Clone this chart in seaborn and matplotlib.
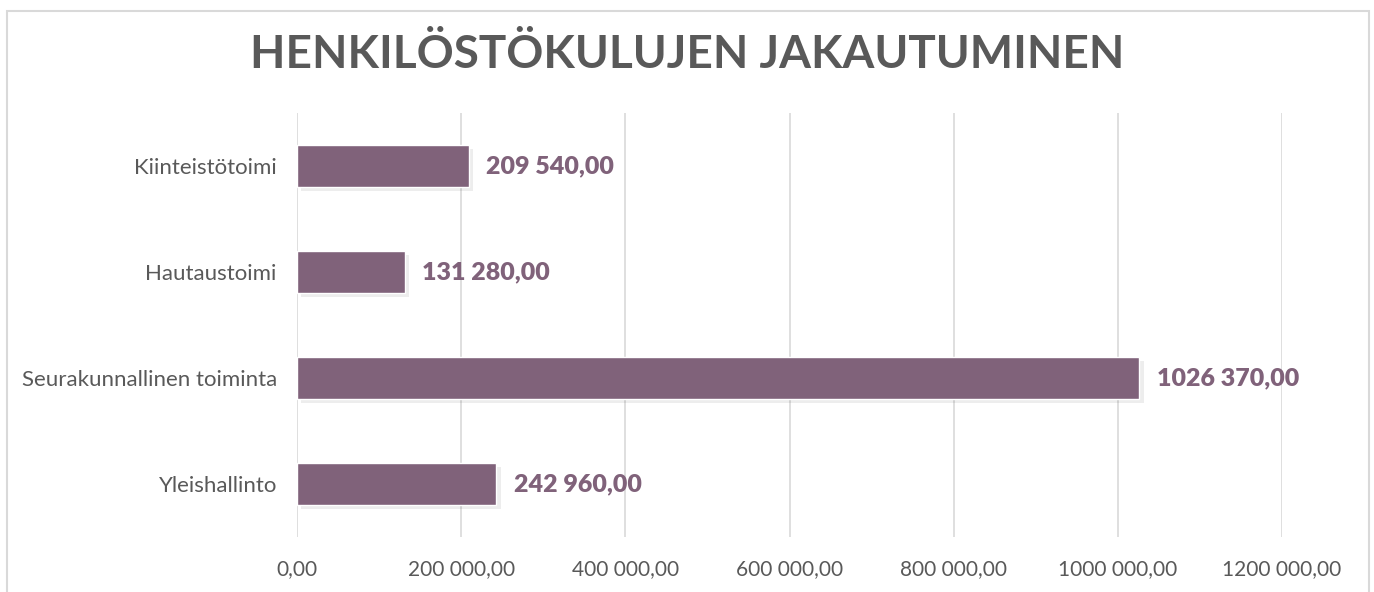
import matplotlib
matplotlib.use("Agg")
import matplotlib.pyplot as plt
import matplotlib.patheffects as pe
from matplotlib.patches import Rectangle
import pandas as pd
import seaborn as sns

# ---------- Data ----------
categories = ["Kiinteistötoimi", "Hautaustoimi", "Seurakunnallinen toiminta", "Yleishallinto"]
values     = [209540.00, 131280.00, 1026370.00, 242960.00]
x_ticks    = [0, 200000, 400000, 600000, 800000, 1000000, 1200000]

TITLE     = "HENKILÖSTÖKULUJEN JAKAUTUMINEN"
BAR_COLOR = "#80627a"
TEXT_GRAY = "#595959"
GRID_GRAY = "#d9d9d9"


def fi_fmt(v):
    # Excel style: "209 540,00", "1026 370,00", "0,00"
    cents = int(round(v * 100)) % 100
    whole = int(v)
    if whole < 1000:
        return f"{whole},{cents:02d}"
    return f"{whole // 1000} {whole % 1000:03d},{cents:02d}"


df = pd.DataFrame({"category": categories, "value": values})

sns.set_theme(style="white")
plt.rcParams["font.family"] = ["Lato", "DejaVu Sans"]

fig = plt.figure(figsize=(13.74, 5.92), dpi=100)
ax = fig.add_axes([297 / 1374, 1 - 537 / 592, (1282 - 297) / 1374, (537 - 113) / 592])

sns.barplot(data=df, x="value", y="category", orient="h", color=BAR_COLOR,
            saturation=1, width=0.4, ax=ax, zorder=3)

# soft drop shadow like the Excel original
for bar in ax.patches:
    bar.set_path_effects([pe.SimplePatchShadow(offset=(3, -3), shadow_rgbFace="#000000", alpha=0.07),
                          pe.Normal()])

ax.set_xlim(0, 1200000)
ax.set_ylim(3.5, -0.5)
ax.set_xticks(x_ticks)
ax.set_xticklabels([fi_fmt(t) for t in x_ticks], fontsize=15, color=TEXT_GRAY)
ax.tick_params(axis="y", labelsize=16, labelcolor=TEXT_GRAY, length=0, pad=14.5)
ax.tick_params(axis="x", length=0, pad=16)
ax.set_xlabel("")
ax.set_ylabel("")

ax.grid(axis="x", color=GRID_GRAY, linewidth=1.2, zorder=0)
for s in ax.spines.values():
    s.set_visible(False)

for i, v in enumerate(values):
    ax.text(v + 21000, i, fi_fmt(v), va="center", ha="left",
            fontsize=18, fontweight="heavy", color=BAR_COLOR)

fig.text(0.5, 1 - 55 / 592, TITLE, ha="center", va="center",
         fontsize=33, fontweight="bold", color=TEXT_GRAY)

# light frame round the chart area
fig.patches.append(Rectangle((7 / 1374, -0.05), 1362 / 1374, 1 - 11 / 592 + 0.05,
                             transform=fig.transFigure, fill=False,
                             edgecolor=GRID_GRAY, linewidth=1.5))

fig.savefig("out.png", dpi=100)
